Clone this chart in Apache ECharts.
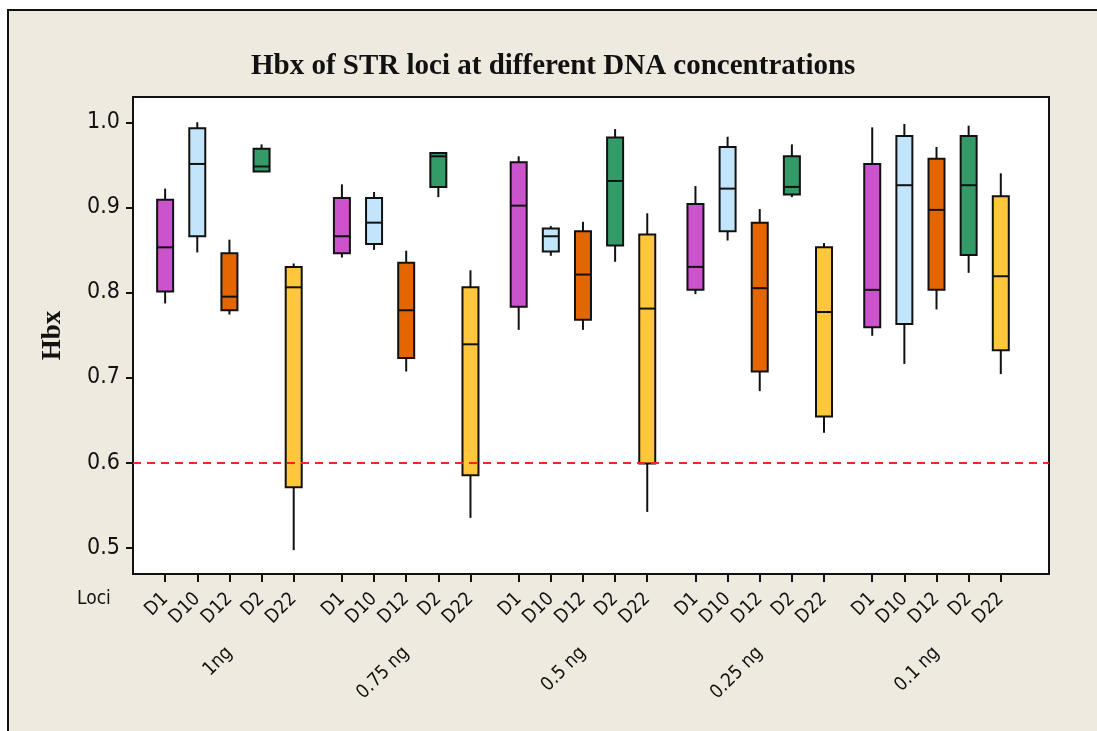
<!DOCTYPE html>
<html><head><meta charset="utf-8">
<script src="https://cdn.jsdelivr.net/npm/echarts@6/dist/echarts.min.js"></script>
<style>
html,body{margin:0;padding:0;background:#fff;overflow:hidden;}
#frame{position:absolute;left:7px;top:9px;width:1100px;height:740px;border:2px solid #111;background:#eeeae0;}
#c{position:absolute;left:0;top:0;width:1097px;height:731px;}
</style>
</head><body>
<div id="frame"></div>
<div id="c"></div>
<script>
// ---- data ----
const groups = ['1ng', '0.75 ng', '0.5 ng', '0.25 ng', '0.1 ng'];
const loci = ['D1', 'D10', 'D12', 'D2', 'D22'];
const locusColors = ['#cb54cc', '#c2e5fb', '#e46600', '#349a68', '#ffc83c'];
// each row: one DNA amount, [min, Q1, median, Q3, max]
const D1 = [[0.787, 0.801, 0.853, 0.909, 0.922], [0.841, 0.846, 0.866, 0.911, 0.927], [0.756, 0.783, 0.902, 0.953, 0.960], [0.798, 0.803, 0.830, 0.904, 0.925], [0.749, 0.759, 0.803, 0.951, 0.994]];
const D10 = [[0.847, 0.866, 0.951, 0.993, 1.000], [0.850, 0.857, 0.882, 0.911, 0.918], [0.843, 0.848, 0.866, 0.875, 0.878], [0.861, 0.872, 0.922, 0.971, 0.983], [0.716, 0.763, 0.926, 0.984, 0.998]];
const D12 = [[0.774, 0.779, 0.795, 0.846, 0.862], [0.707, 0.723, 0.779, 0.835, 0.849], [0.756, 0.768, 0.821, 0.872, 0.883], [0.684, 0.707, 0.805, 0.882, 0.898], [0.780, 0.803, 0.897, 0.957, 0.971]];
const D2 = [[0.942, 0.942, 0.948, 0.969, 0.974], [0.912, 0.924, 0.960, 0.964, 0.964], [0.836, 0.855, 0.931, 0.982, 0.992], [0.912, 0.915, 0.924, 0.960, 0.974], [0.823, 0.844, 0.926, 0.984, 0.996]];
const D22 = [[0.497, 0.571, 0.806, 0.830, 0.834], [0.535, 0.585, 0.739, 0.806, 0.826], [0.542, 0.599, 0.781, 0.868, 0.893], [0.635, 0.654, 0.777, 0.853, 0.858], [0.704, 0.732, 0.819, 0.913, 0.940]];
const yTicks = [0.5, 0.6, 0.7, 0.8, 0.9, 1.0];
const yMin = 0.469, yMax = 1.0297;
const threshold = 0.6;
const titleText = 'Hbx of STR loci at different DNA concentrations';
const yName = 'Hbx';
const xName = 'Loci';

const locusData = [D1, D10, D12, D2, D22];

// ---- category layout: spacer slots between loci and between groups ----
const cats = [];      // unique category values
const lociLabel = []; // label for each category
const groupLabel = [];
function addSpacer() { cats.push('_' + cats.length); lociLabel.push(''); groupLabel.push(''); }
const boxes = [];
addSpacer(); addSpacer();
groups.forEach((g, gi) => {
  loci.forEach((l, li) => {
    if (li > 0) addSpacer();
    const idx = cats.length;
    cats.push(g + '|' + l);
    lociLabel.push(l);
    groupLabel.push(li === 2 ? g : '');
    const v = locusData[li][gi];
    boxes.push([idx, v[0], v[1], v[2], v[3], v[4], li]);
  });
  if (gi < groups.length - 1) { addSpacer(); addSpacer(); }
});
addSpacer(); addSpacer(); addSpacer();

const SANS = "'DejaVu Sans Condensed', 'Liberation Sans', sans-serif";
const SERIF = "'Liberation Serif', 'DejaVu Serif', serif";
const INK = '#111';

function renderItem(params, api) {
  const x = api.value(0);
  const pMin = api.coord([x, api.value(1)]);
  const pQ1 = api.coord([x, api.value(2)]);
  const pMed = api.coord([x, api.value(3)]);
  const pQ3 = api.coord([x, api.value(4)]);
  const pMax = api.coord([x, api.value(5)]);
  const c = locusColors[api.value(6)];
  const hw = 8;
  const cx = pMed[0];
  return {
    type: 'group',
    children: [
      { type: 'line', shape: { x1: cx, y1: pMax[1], x2: cx, y2: pQ3[1] }, style: { stroke: INK, lineWidth: 2 } },
      { type: 'line', shape: { x1: cx, y1: pQ1[1], x2: cx, y2: pMin[1] }, style: { stroke: INK, lineWidth: 2 } },
      { type: 'rect', shape: { x: cx - hw, y: pQ3[1], width: 2 * hw, height: pQ1[1] - pQ3[1] }, style: { fill: c, stroke: INK, lineWidth: 2 } },
      { type: 'line', shape: { x1: cx - hw, y1: pMed[1], x2: cx + hw, y2: pMed[1] }, style: { stroke: INK, lineWidth: 2 } }
    ]
  };
}

const chart = echarts.init(document.getElementById('c'), null, { renderer: 'canvas' });
chart.setOption({
  animation: false,
  backgroundColor: 'transparent',
  title: {
    text: titleText,
    left: 251,
    top: 52,
    padding: 0,
    textStyle: { fontFamily: SERIF, fontWeight: 'bold', fontSize: 29, color: INK }
  },
  grid: {
    left: 133, right: 48, top: 97, bottom: 157,
    show: true, backgroundColor: '#fff', borderColor: INK, borderWidth: 2
  },
  xAxis: [{
    type: 'category',
    data: cats,
    boundaryGap: false,
    position: 'bottom',
    axisLine: { show: false },
    axisTick: {
      show: true, length: 8, inside: false,
      interval: (i) => lociLabel[i] !== '',
      lineStyle: { color: INK, width: 2 }
    },
    axisLabel: {
      interval: (i) => lociLabel[i] !== '',
      formatter: (v, i) => lociLabel[i],
      rotate: 45, margin: 22,
      fontFamily: SANS, fontSize: 19, color: INK
    },
    splitLine: { show: false }
  }, {
    type: 'category',
    data: cats,
    boundaryGap: false,
    position: 'bottom',
    axisLine: { show: false },
    axisTick: { show: false },
    axisLabel: {
      interval: (i) => groupLabel[i] !== '',
      formatter: (v, i) => groupLabel[i],
      rotate: 45, margin: 76,
      fontFamily: SANS, fontSize: 19, color: INK
    },
    splitLine: { show: false }
  }],
  yAxis: {
    type: 'value',
    min: yMin, max: yMax,
    name: yName,
    nameLocation: 'middle',
    nameGap: 66,
    nameTextStyle: { fontFamily: SERIF, fontWeight: 'bold', fontSize: 27, color: INK },
    axisLine: { show: false },
    axisTick: { show: true, customValues: yTicks, length: 7, lineStyle: { color: INK, width: 2 } },
    axisLabel: { customValues: yTicks, formatter: (v) => v.toFixed(1), margin: 13, fontFamily: SANS, fontSize: 23, color: INK },
    splitLine: { show: false }
  },
  graphic: [{
    type: 'text', left: 77, top: 590,
    style: { text: xName, fontFamily: SANS, fontSize: 19, fill: INK }
  }],
  series: [{
    type: 'custom',
    xAxisIndex: 0,
    yAxisIndex: 0,
    dimensions: ['x', 'min', 'q1', 'median', 'q3', 'max', 'locus'],
    encode: { x: 0, y: [1, 2, 3, 4, 5] },
    data: boxes,
    renderItem: renderItem,
    clip: false,
    markLine: {
      silent: true,
      symbol: ['none', 'none'],
      label: { show: false },
      lineStyle: { color: '#f22', type: [8, 6], width: 2 },
      data: [{ yAxis: threshold }]
    }
  }]
});
</script>
</body></html>
